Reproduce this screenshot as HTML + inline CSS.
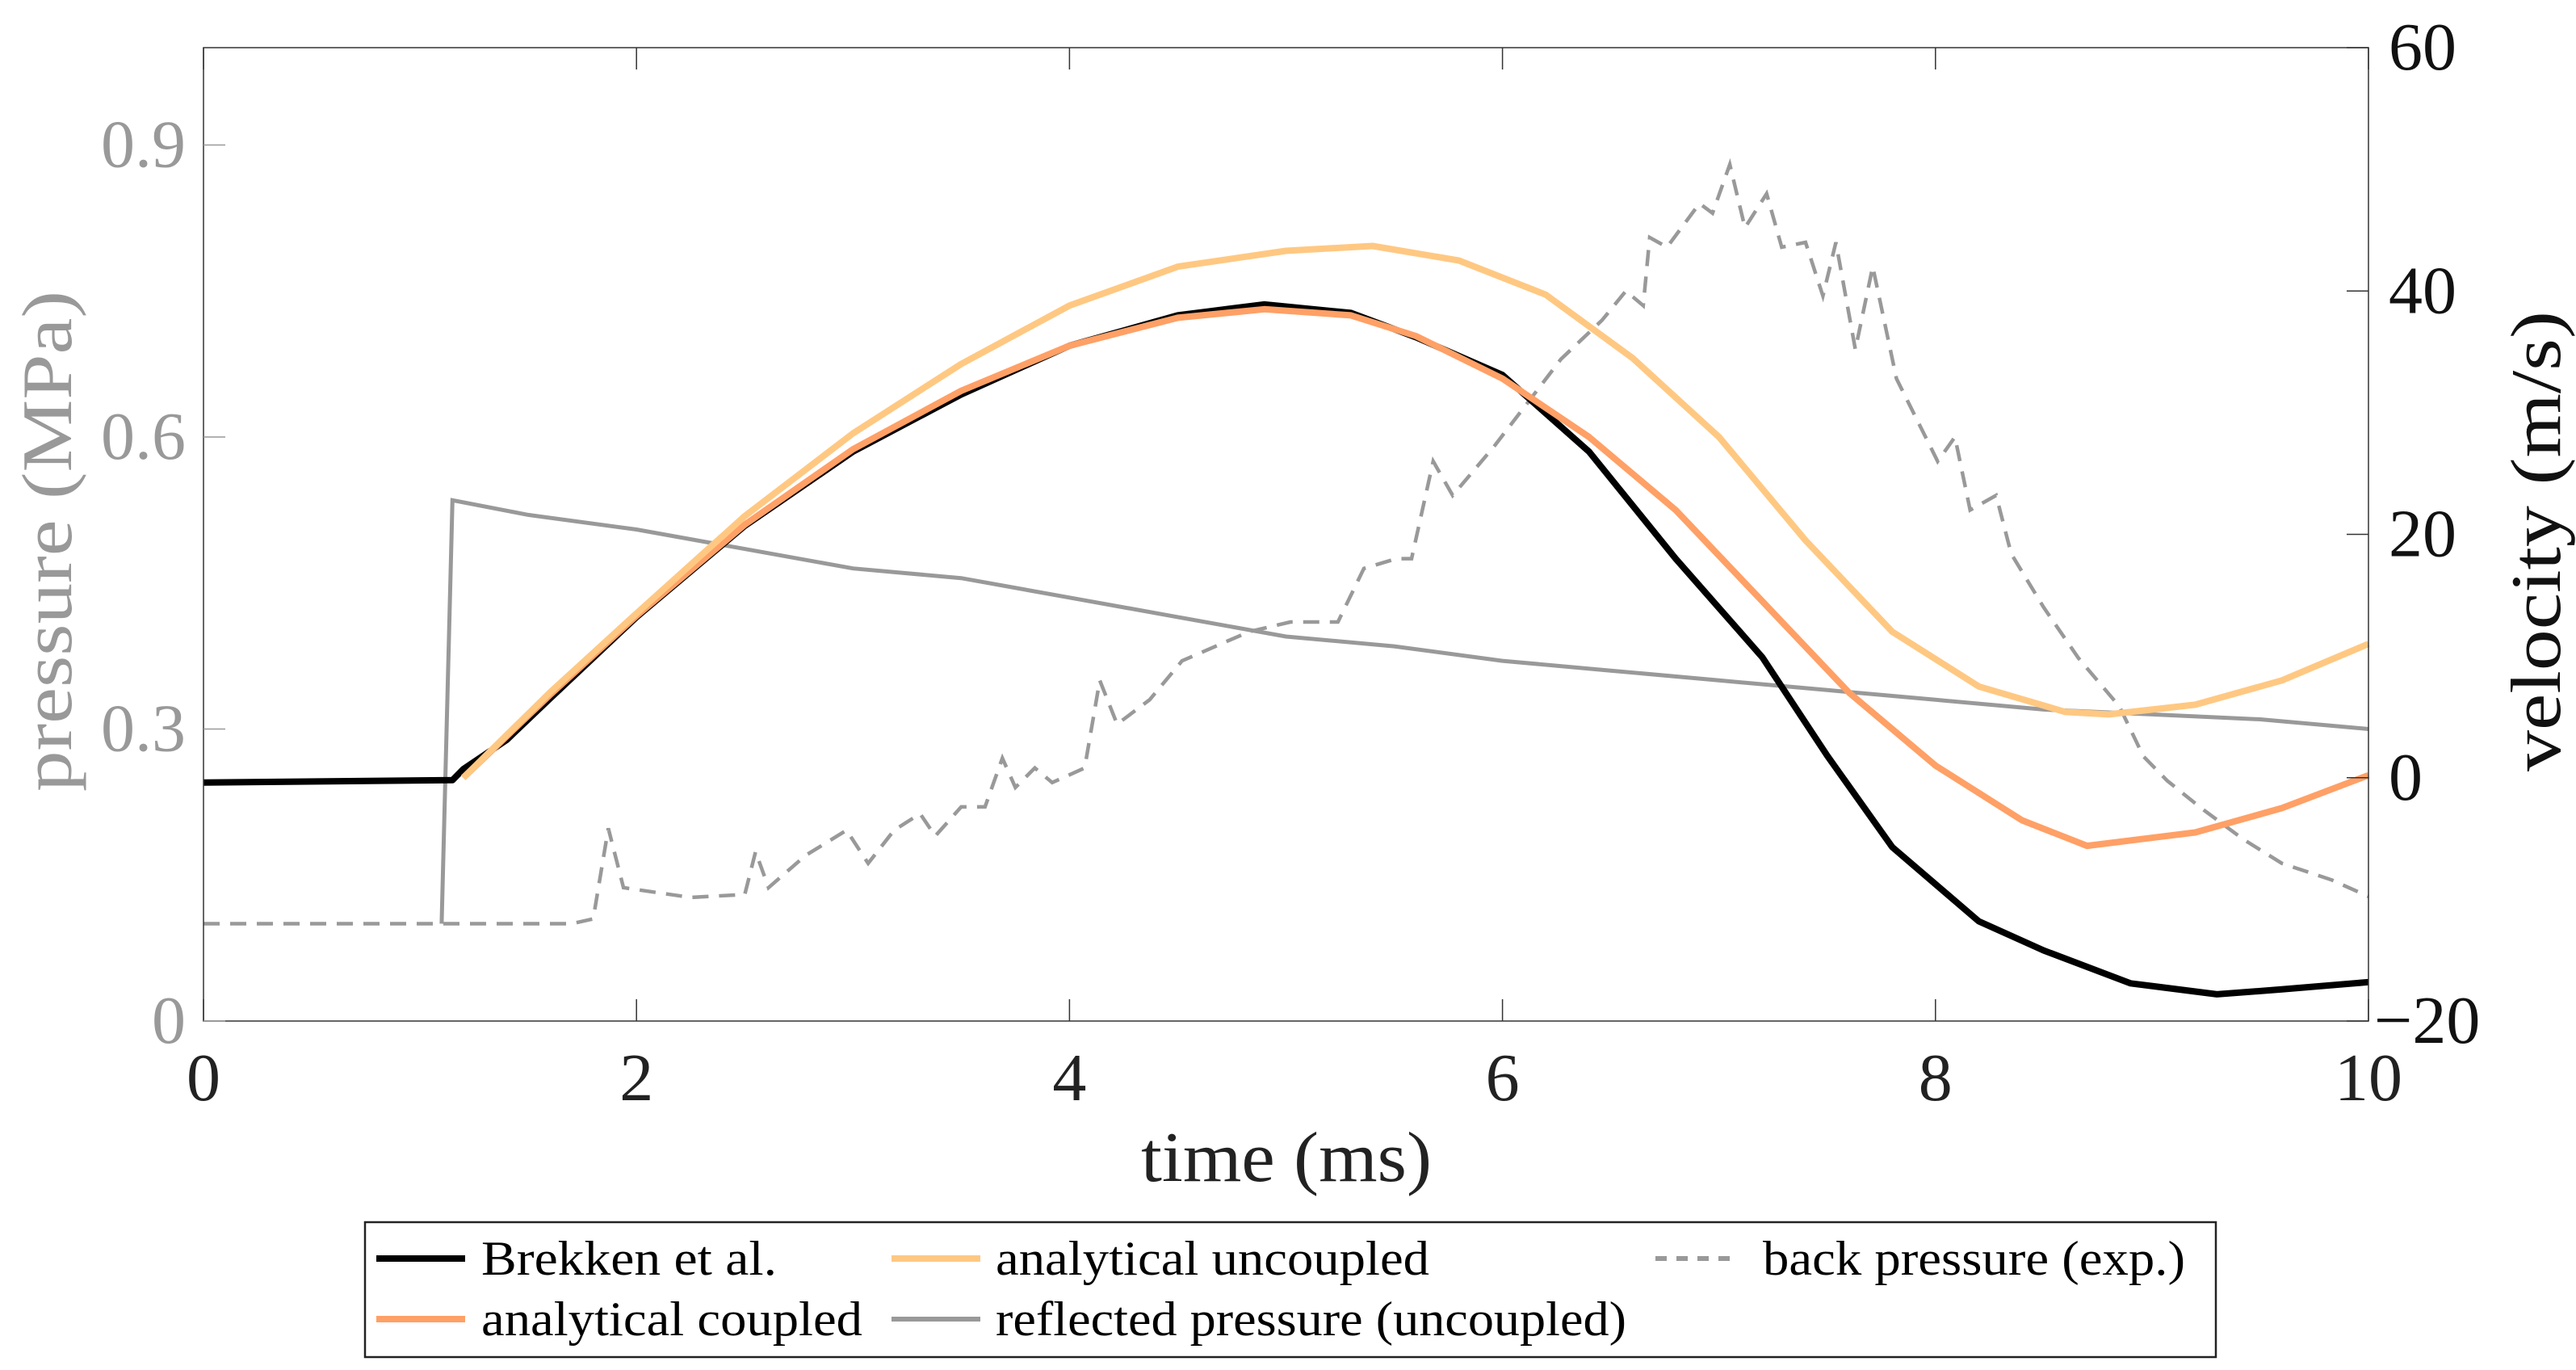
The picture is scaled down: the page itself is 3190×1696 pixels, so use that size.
<!DOCTYPE html>
<html><head><meta charset="utf-8"><style>
html,body{margin:0;padding:0;background:#fff;}
svg{display:block;font-family:"Liberation Serif",serif;}
</style></head><body>
<svg id="chart" width="3190" height="1696" viewBox="0 0 3190 1696" xmlns="http://www.w3.org/2000/svg">
<rect x="0" y="0" width="3190" height="1696" fill="#fff"/>
<g id="marks"></g>
<g id="axes"></g>
<text x="1593" y="1462" font-size="88" text-anchor="middle" fill="#222" textLength="360" lengthAdjust="spacingAndGlyphs">time (ms)</text>
<text transform="translate(88,670) rotate(-90)" font-size="88" text-anchor="middle" fill="#999" textLength="620" lengthAdjust="spacingAndGlyphs">pressure (MPa)</text>
<text transform="translate(3170,670) rotate(-90)" font-size="88" text-anchor="middle" fill="#111" textLength="570" lengthAdjust="spacingAndGlyphs">velocity (m/s)</text>
<g>
<rect x="452" y="1513" width="2292" height="167" fill="#fff" stroke="#222" stroke-width="2.5"/>
<g><line x1="466" y1="1558" x2="576" y2="1558" stroke="#000" stroke-width="8"/><text x="596" y="1578" font-size="60" textLength="366" lengthAdjust="spacingAndGlyphs">Brekken et al.</text></g>
<g><line x1="1104" y1="1558" x2="1214" y2="1558" stroke="#FFC882" stroke-width="8"/><text x="1233" y="1578" font-size="60" textLength="537" lengthAdjust="spacingAndGlyphs">analytical uncoupled</text></g>
<g><line x1="2050" y1="1558" x2="2150" y2="1558" stroke="#999" stroke-width="6" stroke-dasharray="14,12"/><text x="2183" y="1578" font-size="60" textLength="523" lengthAdjust="spacingAndGlyphs">back pressure (exp.)</text></g>
<g><line x1="466" y1="1633" x2="576" y2="1633" stroke="#FFA066" stroke-width="8"/><text x="596" y="1653" font-size="60" textLength="472" lengthAdjust="spacingAndGlyphs">analytical coupled</text></g>
<g><line x1="1104" y1="1633" x2="1214" y2="1633" stroke="#999" stroke-width="6"/><text x="1233" y="1653" font-size="60" textLength="781" lengthAdjust="spacingAndGlyphs">reflected pressure (uncoupled)</text></g>
</g>
</svg>
<script>
const brekkenT=[0,1.15,1.2,1.4,1.6,2.0,2.5,3.0,3.5,4.0,4.5,4.9,5.3,5.6,6.0,6.4,6.8,7.2,7.5,7.8,8.2,8.5,8.9,9.3,9.6,10];
const brekkenV=[-0.4,-0.2,0.7,3.1,6.5,13.2,20.7,26.8,31.5,35.5,38.0,38.9,38.2,36.2,33.1,26.8,18.0,9.9,1.8,-5.7,-11.8,-14.2,-16.9,-17.8,-17.4,-16.8];
const coupledT=[1.2,1.6,2.0,2.5,3.0,3.5,4.0,4.5,4.9,5.3,5.6,6.0,6.4,6.8,7.2,7.6,8.0,8.4,8.7,9.2,9.6,10];
const coupledV=[0,6.8,13.3,20.8,27,31.8,35.5,37.8,38.5,38.0,36.3,32.8,28,22,14.5,7,1,-3.5,-5.6,-4.5,-2.5,0.2];
const uncoupledT=[1.2,1.6,2.0,2.5,3.0,3.5,4.0,4.5,5.0,5.4,5.8,6.2,6.6,7.0,7.4,7.8,8.2,8.6,8.8,9.2,9.6,10];
const uncoupledV=[0,7,13.5,21.5,28.3,34,38.8,42,43.3,43.7,42.5,39.7,34.5,28,19.5,12,7.5,5.4,5.2,6,8,11];
const reflectedT=[1.1,1.15,1.5,2,2.5,3,3.5,4,4.5,5,5.5,6,6.5,7,7.5,8,8.5,9,9.5,10];
const reflectedP=[0.1,0.535,0.52,0.505,0.485,0.465,0.455,0.435,0.415,0.395,0.385,0.37,0.36,0.35,0.34,0.33,0.32,0.315,0.31,0.3];
const backT=[0,1.7,1.8,1.87,1.94,2.25,2.5,2.55,2.61,2.78,2.97,3.07,3.19,3.31,3.38,3.5,3.61,3.69,3.75,3.84,3.92,4.07,4.14,4.22,4.37,4.52,4.83,5.02,5.13,5.24,5.36,5.51,5.58,5.68,5.77,5.96,6.15,6.27,6.46,6.57,6.65,6.68,6.76,6.91,6.97,7.05,7.12,7.22,7.29,7.4,7.48,7.54,7.63,7.71,7.82,8.01,8.09,8.16,8.28,8.35,8.5,8.66,8.85,8.96,9.07,9.22,9.42,9.6,9.83,10];
const backP=[0.1,0.1,0.105,0.198,0.137,0.127,0.13,0.174,0.137,0.17,0.196,0.162,0.196,0.213,0.19,0.22,0.22,0.27,0.24,0.26,0.245,0.26,0.35,0.305,0.33,0.37,0.4,0.41,0.41,0.41,0.465,0.475,0.475,0.575,0.54,0.59,0.645,0.68,0.72,0.75,0.735,0.805,0.795,0.84,0.83,0.88,0.815,0.85,0.795,0.8,0.745,0.8,0.69,0.775,0.66,0.575,0.6,0.525,0.54,0.48,0.425,0.373,0.323,0.272,0.247,0.22,0.187,0.162,0.145,0.128];
const xTicks=[0,2,4,6,8,10];
const pTicks=[0,0.3,0.6,0.9];
const pTickLabels=["0","0.3","0.6","0.9"];
const vTicks=[-20,0,20,40,60];

const L=252,R=2933,T=59,B=1264;
const sx=t=>L+(t/10)*(R-L);
const syP=p=>B-(p/1.0)*(B-T);
const syV=v=>B-((v+20)/80)*(B-T);
const NS="http://www.w3.org/2000/svg";
const marks=document.getElementById('marks');
const axes=document.getElementById('axes');
function mk(tag,parent){const e=document.createElementNS(NS,tag);parent.appendChild(e);return e;}
function pts(ts,vs,sy){return ts.map((t,i)=>sx(t).toFixed(1)+','+sy(vs[i]).toFixed(1)).join(' ');}

let e;
e=mk('polyline',marks);


e.setAttribute('points',pts(backT,backP,syP));e.setAttribute('fill','none');e.setAttribute('stroke','#999');e.setAttribute('stroke-width','4.5');e.setAttribute('stroke-dasharray','20,13');
e=mk('polyline',marks);


e.setAttribute('points',pts(reflectedT,reflectedP,syP));e.setAttribute('fill','none');e.setAttribute('stroke','#999');e.setAttribute('stroke-width','5');
e=mk('polyline',marks);


e.setAttribute('points',pts(brekkenT,brekkenV,syV));e.setAttribute('fill','none');e.setAttribute('stroke','#000');e.setAttribute('stroke-width','8');e.setAttribute('stroke-linejoin','round');
e=mk('polyline',marks);


e.setAttribute('points',pts(coupledT,coupledV,syV));e.setAttribute('fill','none');e.setAttribute('stroke','#FFA066');e.setAttribute('stroke-width','8');e.setAttribute('stroke-linejoin','round');
e=mk('polyline',marks);


e.setAttribute('points',pts(uncoupledT,uncoupledV,syV));e.setAttribute('fill','none');e.setAttribute('stroke','#FFC882');e.setAttribute('stroke-width','8');e.setAttribute('stroke-linejoin','round');

e=mk('rect',axes);


e.setAttribute('x',L);e.setAttribute('y',T);e.setAttribute('width',R-L);e.setAttribute('height',B-T);e.setAttribute('fill','none');e.setAttribute('stroke','#333');e.setAttribute('stroke-width','1.5');

xTicks.forEach(t=>{
  const x=sx(t);
  let l=mk('path',axes);
  
  
  l.setAttribute('d',`M${x},${B}v-27M${x},${T}v27`);l.setAttribute('stroke','#333');l.setAttribute('stroke-width','1.5');
  let tx=mk('text',axes);
  
  
  tx.setAttribute('x',x);tx.setAttribute('y',1362);tx.setAttribute('font-size','84');tx.setAttribute('text-anchor','middle');tx.setAttribute('fill','#222');tx.textContent=String(t);
});
pTicks.forEach((p,i)=>{
  const y=syP(p);
  let l=mk('path',axes);
  
  
  l.setAttribute('d',`M${L},${y}h27`);l.setAttribute('stroke','#999');l.setAttribute('stroke-width','1.5');
  let tx=mk('text',axes);
  
  
  tx.setAttribute('x',230);tx.setAttribute('y',y+27);tx.setAttribute('font-size','84');tx.setAttribute('text-anchor','end');tx.setAttribute('fill','#999');tx.textContent=pTickLabels[i];
});
vTicks.forEach(v=>{
  const y=syV(v);
  let l=mk('path',axes);
  
  
  l.setAttribute('d',`M${R},${y}h-27`);l.setAttribute('stroke','#333');l.setAttribute('stroke-width','1.5');
  let tx=mk('text',axes);
  
  
  tx.setAttribute('x',v<0?2940:2958);tx.setAttribute('y',y+27);tx.setAttribute('font-size','84');tx.setAttribute('fill','#111');tx.textContent=v<0?'\u2212'+Math.abs(v):String(v);
});
</script>
</body></html>
